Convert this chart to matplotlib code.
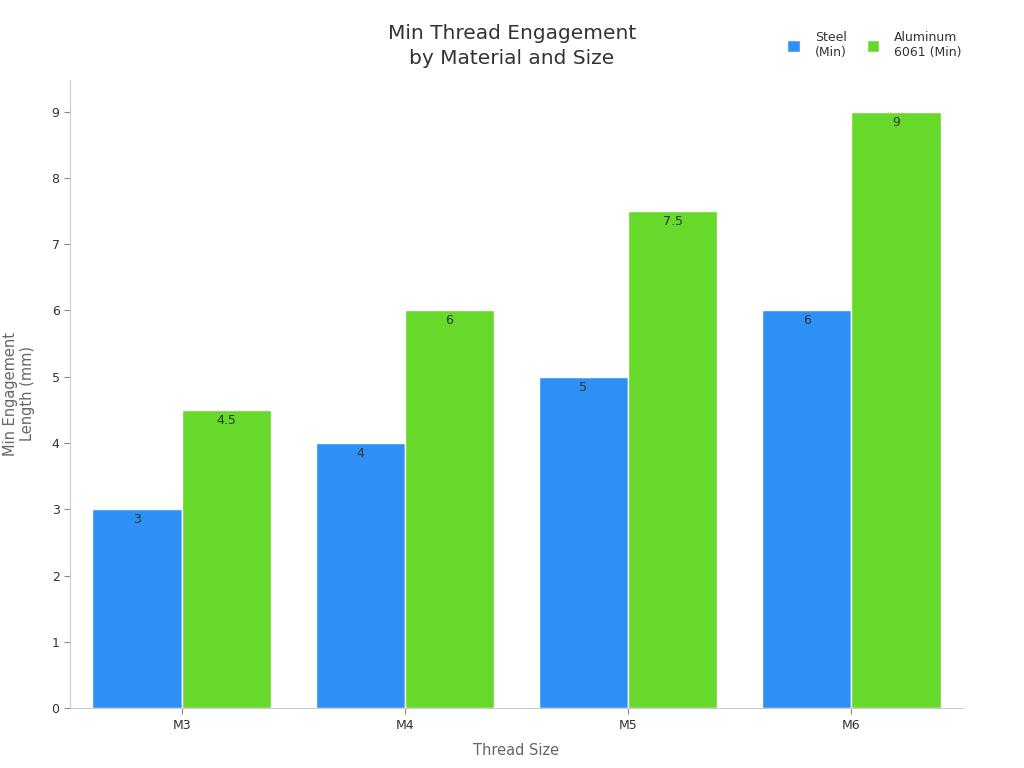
import matplotlib
matplotlib.use("Agg")
import matplotlib.pyplot as plt
import numpy as np

sizes = ["M3", "M4", "M5", "M6"]
steel_min = [3, 4, 5, 6]
aluminum_min = [4.5, 6, 7.5, 9]
series_names = ["Steel\n(Min)", "Aluminum\n6061 (Min)"]
colors = ["#2E90F5", "#66D92A"]

fig = plt.figure(figsize=(10.24, 7.68), dpi=100)
ax = fig.add_axes([0.0684, 0.078, 0.872, 0.818])

x = np.arange(len(sizes))
w = 0.4
for i, (vals, name, c) in enumerate(zip([steel_min, aluminum_min], series_names, colors)):
    b = ax.bar(x + (i - 0.5) * w, vals, w, color=c, edgecolor="white", linewidth=1, label=name)
    # value labels just inside the top of each bar
    for rect, v in zip(b, vals):
        ax.text(rect.get_x() + rect.get_width() / 2, v - 0.06, f"{v:g}",
                ha="center", va="top", fontsize=9, color="#333333")

ax.set_xlim(-0.5, 3.5)
ax.set_ylim(0, 9.48)
ax.set_xticks(x)
ax.set_xticklabels(sizes)
ax.set_yticks(range(10))
ax.tick_params(labelcolor="#333333", labelsize=9, length=4, color="#888888")
for s in ["top", "right"]:
    ax.spines[s].set_visible(False)
for s in ["left", "bottom"]:
    ax.spines[s].set_color("#cccccc")

ax.set_xlabel("Thread Size", fontsize=10.5, color="#666666", labelpad=8)
ax.set_ylabel("Min Engagement\nLength (mm)", fontsize=10.5, color="#666666", labelpad=12)

fig.text(0.5, 0.94, "Min Thread Engagement\nby Material and Size", ha="center", va="center",
         fontsize=14.5, color="#333333", linespacing=1.45)

fig.legend(loc="center right", bbox_to_anchor=(0.95, 0.941), ncol=2, frameon=False,
           fontsize=9, handlelength=1.0, handleheight=1.0, columnspacing=1.6,
           handletextpad=1.2, labelcolor="#333333")

fig.savefig("out.png", dpi=100)
